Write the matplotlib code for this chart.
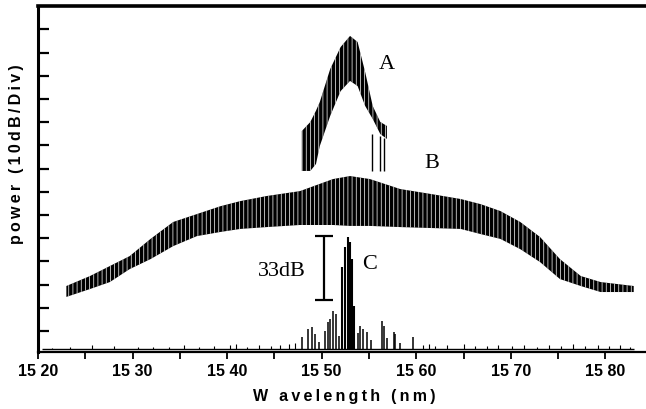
import matplotlib
matplotlib.use("Agg")
import matplotlib.pyplot as plt

# Values. x = wavelength (nm), y = power (dB, 10 dB per division)

# Trace A: narrow comb, upper and lower edge of the line bundle
a_wl = [1547.9, 1548.8, 1549.4, 1549.8, 1550.9, 1552.0, 1553.0, 1553.8, 1554.6, 1555.4, 1556.2, 1556.9]
a_top = [-43.8, -39.9, -35.0, -31.3, -17.1, -7.6, -2.8, -5.4, -18.4, -33.0, -39.9, -41.6]
a_bot = [-61.0, -61.0, -58.0, -50.3, -37.3, -26.6, -22.2, -24.4, -33.0, -38.6, -45.1, -47.2]
# single lines of A that reach further down
a_long_wl = [1555.3, 1556.2, 1556.6]
a_long_top = [-45.0, -46.0, -47.0]
a_long_bot = [-61.0, -61.0, -61.0]

# Trace B: broad comb
b_wl = [1523.0, 1525.5, 1527.6, 1529.7, 1531.9, 1534.3, 1536.8, 1539.3, 1541.4, 1544.2, 1547.7,
        1551.2, 1553.0, 1555.1, 1558.3, 1561.5, 1564.7, 1566.8, 1568.9, 1571.0, 1573.1, 1575.2,
        1577.4, 1579.5, 1583.0]
b_top = [-110.6, -106.3, -102.0, -97.7, -90.3, -83.0, -79.6, -76.2, -74.0, -71.8, -69.7,
         -64.5, -63.2, -64.5, -68.8, -70.9, -73.1, -75.3, -78.3, -83.0, -89.5, -99.0,
         -106.3, -108.9, -110.6]
b_bot = [-115.3, -111.9, -108.9, -103.3, -99.0, -93.4, -89.1, -87.3, -86.0, -85.2, -84.3,
         -84.3, -84.7, -84.7, -85.2, -85.6, -86.0, -88.2, -90.3, -94.7, -100.3, -107.6,
         -110.6, -113.2, -113.2]

# Trace C: filtered output, lines standing on the noise floor
c_floor = -137.8
c_range = [1520.4, 1583.0]
c_wl = [1547.9, 1548.6, 1549.0, 1549.3, 1549.7, 1550.4, 1550.7, 1550.9, 1551.2, 1551.5, 1551.8,
        1553.8, 1554.1, 1554.4, 1554.8, 1555.2, 1556.4, 1556.6, 1556.9, 1557.6, 1557.8, 1558.3, 1559.7]
c_lvl = [-132.6, -129.1, -128.3, -131.3, -134.7, -130.0, -126.0, -124.8, -121.4, -122.7, -132.2,
         -131.0, -127.8, -129.1, -130.4, -134.0, -125.7, -127.8, -133.0, -130.4, -131.3, -135.0, -132.6]
# main line group of C
c_main_wl = [1552.2, 1552.5, 1552.8, 1553.0, 1553.2, 1553.4]
c_main_lvl = [-102.4, -93.8, -89.5, -91.6, -99.0, -119.2]
noise_wl = [1521.5, 1523.4, 1525.7, 1528.0, 1530.6, 1532.2, 1533.9, 1535.4, 1537.0, 1538.6, 1540.3,
            1540.9, 1542.1, 1543.4, 1544.6, 1545.6, 1546.5, 1547.2, 1560.7, 1561.4, 1562.0, 1563.3,
            1565.0, 1566.2, 1567.5, 1568.7, 1570.1, 1571.4, 1572.8, 1574.0, 1575.3, 1576.6, 1577.9,
            1579.2, 1580.4, 1581.6, 1582.6]
noise_lvl = [-137.2, -136.9, -136.0, -136.6, -137.0, -136.8, -137.1, -136.2, -136.9, -136.5, -136.1,
             -135.4, -136.7, -136.2, -136.5, -135.9, -135.6, -135.3, -136.0, -135.8, -136.4, -136.0,
             -135.6, -136.4, -136.3, -135.9, -136.6, -136.1, -136.7, -136.2, -136.5, -135.8, -136.6,
             -136.2, -136.5, -136.0, -136.9]

# axis ticks
x_major = [1520, 1530, 1540, 1550, 1560, 1570, 1580]
x_minor = [1525, 1535, 1545, 1555, 1565, 1575]
x_labels = ["15 20", "15 30", "15 40", "15 50", "15 60", "15 70", "15 80"]
y_ticks = [-130, -120, -110, -100, -90, -80, -70, -60, -50, -40, -30, -20, -10, 0]

plt.rcParams['hatch.color'] = 'white'
plt.rcParams['hatch.linewidth'] = 0.5
sans = 'Liberation Sans'
serif = 'Liberation Serif'
ts = '\u2009'

fig = plt.figure(figsize=(6.46, 4.10), dpi=100)
ax = fig.add_axes([38 / 646, 57 / 410, 608 / 646, 346 / 410])

# combs drawn as black bands with white vertical hatch to give the line texture
ax.fill_between(b_wl, b_bot, b_top, facecolor='black', edgecolor='white', hatch='||||', linewidth=0)
ax.fill_between(a_wl, a_bot, a_top, facecolor='black', edgecolor='white', hatch='||||', linewidth=0)
ax.vlines(a_long_wl, a_long_bot, a_long_top, color='black', linewidth=1.0)

ax.hlines(c_floor, c_range[0], c_range[1], color='black', linewidth=1.0)
ax.vlines(noise_wl, c_floor, noise_lvl, color='black', linewidth=0.8)
ax.vlines(c_wl, c_floor, c_lvl, color='black', linewidth=1.1)
ax.vlines(c_main_wl, c_floor, c_main_lvl, color='black', linewidth=1.5)

# 33 dB scale bar
ax.vlines(1550.2, -116.6, -89.1, color='black', linewidth=1.6)
ax.hlines([-116.6, -89.1], 1549.3, 1551.2, color='black', linewidth=1.6)
ax.text(1545.8, -104.1, "33dB", family=serif, fontsize=16, ha='center', va='center')

ax.text(1556.9, -14.9, "A", family=serif, fontsize=16, ha='center', va='center')
ax.text(1561.6, -57.2, "B", family=serif, fontsize=16, ha='center', va='center')
ax.text(1555.1, -101.1, "C", family=serif, fontsize=16, ha='center', va='center')

ax.set_xlim(1520, 1584.3)
ax.set_ylim(-139.05, 10.1)

ax.set_xticks(x_major)
ax.set_xticks(x_minor, minor=True)
ax.set_xticklabels(x_labels, family=sans, fontweight='bold', fontsize=11.5)
ax.set_yticks(y_ticks)
ax.set_yticklabels([])
ax.tick_params(axis='x', which='both', direction='out', length=5, width=1.3, pad=3)
ax.tick_params(axis='y', direction='in', length=8, width=1.6)

ax.spines['right'].set_visible(False)
ax.spines['left'].set_linewidth(2.2)
ax.spines['top'].set_linewidth(2.6)
ax.spines['bottom'].set_linewidth(1.6)

fig.text(344 / 646, 1 - 397 / 410, ts.join("W avelength (nm)"), family=sans, fontweight='bold',
         fontsize=11.5, ha='center', va='center')
fig.text(17 / 646, 1 - 154 / 410, ts.join("power (10dB/Div)"), family=sans, fontweight='bold',
         fontsize=11.5, rotation=90, ha='center', va='center')

fig.savefig("out.png", dpi=100, facecolor='white')
